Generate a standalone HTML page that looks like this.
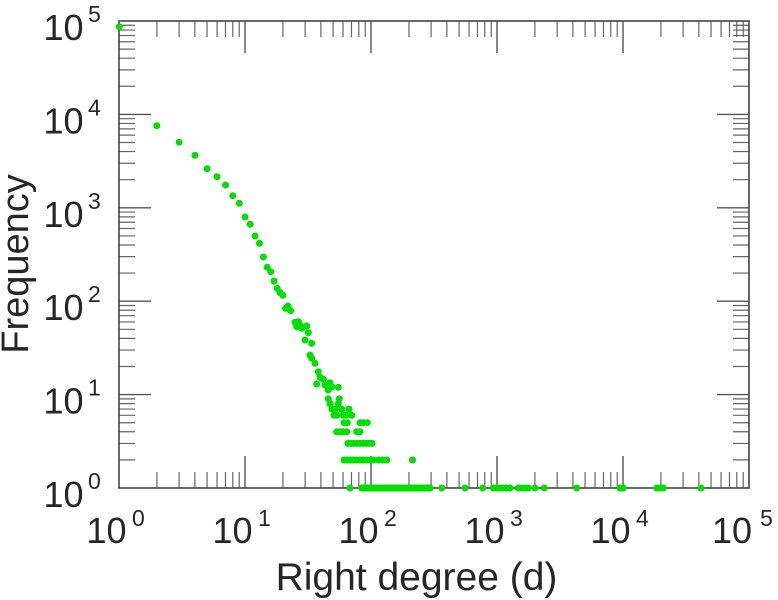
<!DOCTYPE html>
<html><head><meta charset="utf-8"><style>
html,body{margin:0;padding:0;background:#fff;}
svg{display:block;}
text{font-family:"Liberation Sans",Arial,sans-serif;fill:#262626;}
</style></head><body>
<svg width="778" height="600" viewBox="0 0 778 600" xmlns="http://www.w3.org/2000/svg">
<rect x="0" y="0" width="778" height="600" fill="#fff"/>
<g stroke="#666" stroke-width="1.2" fill="none">
<path d="M156.93 488v-16M179.12 488v-16M194.86 488v-16M207.07 488v-16M217.05 488v-16M225.48 488v-16M232.79 488v-16M239.23 488v-16M282.93 488v-16M305.12 488v-16M320.86 488v-16M333.07 488v-16M343.05 488v-16M351.48 488v-16M358.79 488v-16M365.23 488v-16M408.93 488v-16M431.12 488v-16M446.86 488v-16M459.07 488v-16M469.05 488v-16M477.48 488v-16M484.79 488v-16M491.23 488v-16M534.93 488v-16M557.12 488v-16M572.86 488v-16M585.07 488v-16M595.05 488v-16M603.48 488v-16M610.79 488v-16M617.23 488v-16M660.93 488v-16M683.12 488v-16M698.86 488v-16M711.07 488v-16M721.05 488v-16M729.48 488v-16M736.79 488v-16M743.23 488v-16"/>
<path d="M156.93 21v16M179.12 21v16M194.86 21v16M207.07 21v16M217.05 21v16M225.48 21v16M232.79 21v16M239.23 21v16M282.93 21v16M305.12 21v16M320.86 21v16M333.07 21v16M343.05 21v16M351.48 21v16M358.79 21v16M365.23 21v16M408.93 21v16M431.12 21v16M446.86 21v16M459.07 21v16M469.05 21v16M477.48 21v16M484.79 21v16M491.23 21v16M534.93 21v16M557.12 21v16M572.86 21v16M585.07 21v16M595.05 21v16M603.48 21v16M610.79 21v16M617.23 21v16M660.93 21v16M683.12 21v16M698.86 21v16M711.07 21v16M721.05 21v16M729.48 21v16M736.79 21v16M743.23 21v16"/>
<path d="M119 459.88h16M119 443.44h16M119 431.77h16M119 422.72h16M119 415.32h16M119 409.07h16M119 403.65h16M119 398.87h16M119 366.48h16M119 350.04h16M119 338.37h16M119 329.32h16M119 321.92h16M119 315.67h16M119 310.25h16M119 305.47h16M119 273.08h16M119 256.64h16M119 244.97h16M119 235.92h16M119 228.52h16M119 222.27h16M119 216.85h16M119 212.07h16M119 179.68h16M119 163.24h16M119 151.57h16M119 142.52h16M119 135.12h16M119 128.87h16M119 123.45h16M119 118.67h16M119 86.28h16M119 69.84h16M119 58.17h16M119 49.12h16M119 41.72h16M119 35.47h16M119 30.05h16M119 25.27h16"/>
<path d="M749 459.88h-16M749 443.44h-16M749 431.77h-16M749 422.72h-16M749 415.32h-16M749 409.07h-16M749 403.65h-16M749 398.87h-16M749 366.48h-16M749 350.04h-16M749 338.37h-16M749 329.32h-16M749 321.92h-16M749 315.67h-16M749 310.25h-16M749 305.47h-16M749 273.08h-16M749 256.64h-16M749 244.97h-16M749 235.92h-16M749 228.52h-16M749 222.27h-16M749 216.85h-16M749 212.07h-16M749 179.68h-16M749 163.24h-16M749 151.57h-16M749 142.52h-16M749 135.12h-16M749 128.87h-16M749 123.45h-16M749 118.67h-16M749 86.28h-16M749 69.84h-16M749 58.17h-16M749 49.12h-16M749 41.72h-16M749 35.47h-16M749 30.05h-16M749 25.27h-16"/>
</g>
<g stroke="#555" stroke-width="1.4" fill="none">
<path d="M245 488v-32M371 488v-32M497 488v-32M623 488v-32M245 21v32M371 21v32M497 21v32M623 21v32M119 394.6h32M119 301.2h32M119 207.8h32M119 114.4h32M749 394.6h-32M749 301.2h-32M749 207.8h-32M749 114.4h-32"/>
</g>
<rect x="119" y="21" width="630" height="467" fill="none" stroke="#444" stroke-width="1.6"/>

<g fill="#00e000">
<circle cx="119.3" cy="26.7" r="3.5"/>
<circle cx="156.9" cy="125.7" r="3.5"/>
<circle cx="179.1" cy="142.3" r="3.5"/>
<circle cx="194.9" cy="155.3" r="3.5"/>
<circle cx="207.1" cy="168.7" r="3.5"/>
<circle cx="217" cy="176.7" r="3.5"/>
<circle cx="225.5" cy="185" r="3.5"/>
<circle cx="232.8" cy="195.7" r="3.5"/>
<circle cx="239.2" cy="203.3" r="3.5"/>
<circle cx="245" cy="217" r="3.5"/>
<circle cx="250.2" cy="224.3" r="3.5"/>
<circle cx="255" cy="236" r="3.5"/>
<circle cx="259.4" cy="243.3" r="3.5"/>
<circle cx="263.4" cy="257" r="3.5"/>
<circle cx="267.2" cy="267.3" r="3.5"/>
<circle cx="270.7" cy="271.7" r="3.5"/>
<circle cx="274" cy="281" r="3.5"/>
<circle cx="277.2" cy="288.3" r="3.5"/>
<circle cx="280.1" cy="292.7" r="3.5"/>
<circle cx="282.9" cy="295.3" r="3.5"/>
<circle cx="285.6" cy="308.3" r="3.5"/>
<circle cx="288.1" cy="306" r="3.5"/>
<circle cx="290.6" cy="310.7" r="3.5"/>
<circle cx="295" cy="322.3" r="3.5"/>
<circle cx="298.3" cy="321.7" r="3.5"/>
<circle cx="296.7" cy="326.7" r="3.5"/>
<circle cx="300" cy="325" r="3.5"/>
<circle cx="301.7" cy="328.3" r="3.5"/>
<circle cx="306.7" cy="326" r="3.5"/>
<circle cx="308.3" cy="332.7" r="3.5"/>
<circle cx="305" cy="340" r="3.5"/>
<circle cx="311.7" cy="343.3" r="3.5"/>
<circle cx="310" cy="355" r="3.5"/>
<circle cx="311.7" cy="358.3" r="3.5"/>
<circle cx="315" cy="363.3" r="3.5"/>
<circle cx="318.3" cy="371.7" r="3.5"/>
<circle cx="320" cy="377.3" r="3.5"/>
<circle cx="316.7" cy="384" r="3.5"/>
<circle cx="323.3" cy="379.3" r="3.5"/>
<circle cx="325" cy="385" r="3.5"/>
<circle cx="330" cy="382.7" r="3.5"/>
<circle cx="331.7" cy="386.7" r="3.5"/>
<circle cx="338.3" cy="387.3" r="3.5"/>
<circle cx="328.3" cy="390" r="3.5"/>
<circle cx="328.3" cy="398.9" r="3.5"/>
<circle cx="339.3" cy="398.9" r="3.5"/>
<circle cx="330" cy="403.6" r="3.5"/>
<circle cx="338.3" cy="403.6" r="3.5"/>
<circle cx="332" cy="409.1" r="3.5"/>
<circle cx="335" cy="409.1" r="3.5"/>
<circle cx="341.7" cy="409.1" r="3.5"/>
<circle cx="349" cy="409.1" r="3.5"/>
<circle cx="334" cy="415.3" r="3.5"/>
<circle cx="337" cy="415.3" r="3.5"/>
<circle cx="343.3" cy="415.3" r="3.5"/>
<circle cx="346" cy="415.3" r="3.5"/>
<circle cx="351.7" cy="415.3" r="3.5"/>
<circle cx="344" cy="422.7" r="3.5"/>
<circle cx="347.3" cy="422.7" r="3.5"/>
<circle cx="360" cy="422.7" r="3.5"/>
<circle cx="363.5" cy="422.7" r="3.5"/>
<circle cx="367.3" cy="422.7" r="3.5"/>
<circle cx="336.7" cy="431.8" r="3.5"/>
<circle cx="340" cy="431.8" r="3.5"/>
<circle cx="343" cy="431.8" r="3.5"/>
<circle cx="346.7" cy="431.8" r="3.5"/>
<circle cx="356.7" cy="431.8" r="3.5"/>
<circle cx="360" cy="431.8" r="3.5"/>
<circle cx="348" cy="443.4" r="3.5"/>
<circle cx="351" cy="443.4" r="3.5"/>
<circle cx="354" cy="443.4" r="3.5"/>
<circle cx="357" cy="443.4" r="3.5"/>
<circle cx="360" cy="443.4" r="3.5"/>
<circle cx="363" cy="443.4" r="3.5"/>
<circle cx="366" cy="443.4" r="3.5"/>
<circle cx="369" cy="443.4" r="3.5"/>
<circle cx="372" cy="443.4" r="3.5"/>
<circle cx="344" cy="460" r="3.5"/>
<circle cx="347" cy="460" r="3.5"/>
<circle cx="350" cy="460" r="3.5"/>
<circle cx="353" cy="460" r="3.5"/>
<circle cx="356.7" cy="460" r="3.5"/>
<circle cx="360" cy="460" r="3.5"/>
<circle cx="363" cy="460" r="3.5"/>
<circle cx="366.7" cy="460" r="3.5"/>
<circle cx="370" cy="460" r="3.5"/>
<circle cx="373.3" cy="460" r="3.5"/>
<circle cx="378.3" cy="460" r="3.5"/>
<circle cx="382.5" cy="460" r="3.5"/>
<circle cx="386.7" cy="460" r="3.5"/>
<circle cx="412.5" cy="460" r="3.5"/>
<circle cx="350" cy="488" r="3.5"/>
<circle cx="441.7" cy="488" r="3.5"/>
<circle cx="465" cy="488" r="3.5"/>
<circle cx="482.7" cy="488" r="3.5"/>
<circle cx="493.3" cy="488" r="3.5"/>
<circle cx="497" cy="488" r="3.5"/>
<circle cx="500" cy="488" r="3.5"/>
<circle cx="503" cy="488" r="3.5"/>
<circle cx="506.5" cy="488" r="3.5"/>
<circle cx="510" cy="488" r="3.5"/>
<circle cx="518.3" cy="488" r="3.5"/>
<circle cx="521.5" cy="488" r="3.5"/>
<circle cx="525" cy="488" r="3.5"/>
<circle cx="528.3" cy="488" r="3.5"/>
<circle cx="535" cy="488" r="3.5"/>
<circle cx="544.3" cy="488" r="3.5"/>
<circle cx="576.7" cy="488" r="3.5"/>
<circle cx="620" cy="488" r="3.5"/>
<circle cx="623.3" cy="488" r="3.5"/>
<circle cx="656.7" cy="488" r="3.5"/>
<circle cx="660" cy="488" r="3.5"/>
<circle cx="663.3" cy="488" r="3.5"/>
<circle cx="701" cy="488" r="3.5"/>
</g>
<line x1="361.7" y1="488" x2="430" y2="488" stroke="#00e000" stroke-width="7" stroke-linecap="round"/>

<g font-size="36">
<text x="83.5" y="40" text-anchor="end">10</text>
<text x="83.5" y="133.4" text-anchor="end">10</text>
<text x="83.5" y="226.8" text-anchor="end">10</text>
<text x="83.5" y="320.2" text-anchor="end">10</text>
<text x="83.5" y="413.6" text-anchor="end">10</text>
<text x="83.5" y="507" text-anchor="end">10</text>
</g>
<g font-size="23">
<text x="88" y="22">5</text>
<text x="88" y="115.4">4</text>
<text x="88" y="208.8">3</text>
<text x="88" y="302.2">2</text>
<text x="88" y="395.6">1</text>
<text x="88" y="489">0</text>
</g>
<g font-size="36">
<text x="126.5" y="543" text-anchor="end">10</text>
<text x="252.5" y="543" text-anchor="end">10</text>
<text x="378.5" y="543" text-anchor="end">10</text>
<text x="504.5" y="543" text-anchor="end">10</text>
<text x="630.5" y="543" text-anchor="end">10</text>
<text x="752" y="543" text-anchor="end">10</text>
</g>
<g font-size="23">
<text x="132" y="526">0</text>
<text x="258" y="526">1</text>
<text x="384" y="526">2</text>
<text x="510" y="526">3</text>
<text x="636" y="526">4</text>
<text x="760" y="526">5</text>
</g>
<text x="416.5" y="590" font-size="39" text-anchor="middle">Right degree (d)</text>
<text transform="translate(28,264) rotate(-90)" font-size="38" text-anchor="middle">Frequency</text>
</svg>
</body></html>
